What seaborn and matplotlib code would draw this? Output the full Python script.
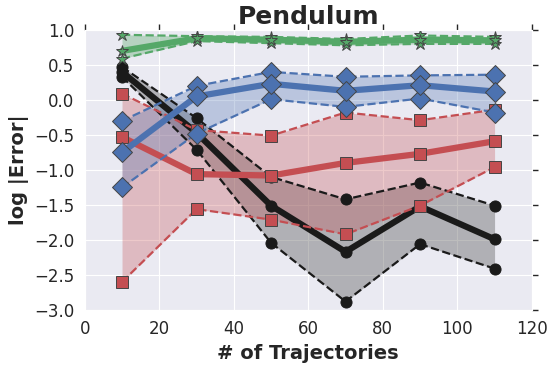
import numpy as np
import pandas as pd
import seaborn as sns
import matplotlib
matplotlib.use("Agg")
import matplotlib.pyplot as plt

# number of trajectories
n_traj = [10, 30, 50, 70, 90, 110]

# black (circles)
black_mean = [0.40, -0.47, -1.51, -2.17, -1.52, -1.99]
black_hi = [0.47, -0.26, -1.10, -1.42, -1.18, -1.51]
black_lo = [0.33, -0.71, -2.04, -2.88, -2.06, -2.41]

# red (squares)
red_mean = [-0.53, -1.06, -1.08, -0.90, -0.77, -0.59]
red_hi = [0.09, -0.43, -0.51, -0.18, -0.29, -0.14]
red_lo = [-2.60, -1.56, -1.71, -1.92, -1.51, -0.96]

# blue (diamonds)
blue_mean = [-0.75, 0.05, 0.23, 0.13, 0.21, 0.12]
blue_hi = [-0.30, 0.20, 0.40, 0.33, 0.35, 0.36]
blue_lo = [-1.25, -0.48, 0.01, -0.10, 0.02, -0.18]

# green (stars)
green_mean = [0.70, 0.88, 0.86, 0.83, 0.86, 0.85]
green_hi = [0.93, 0.91, 0.90, 0.87, 0.92, 0.90]
green_lo = [0.59, 0.84, 0.81, 0.78, 0.80, 0.80]

sns.set_style("darkgrid", {
    "xtick.direction": "out", "ytick.direction": "out",
    "xtick.major.size": 4, "ytick.major.size": 4,
    "xtick.color": "#262626", "ytick.color": "#262626",
})
plt.rcParams["font.family"] = ["DejaVu Sans"]

fig, ax = plt.subplots(figsize=(5.54, 3.69), dpi=100)
fig.subplots_adjust(left=0.153, right=0.960, top=0.919, bottom=0.160)

# name, mean, hi, lo, line colour, marker, marker size, fill colour, fill alpha
series = [
    ("black", black_mean, black_hi, black_lo, "#1a1a1a", "o", 8, "#444444", 0.35),
    ("red", red_mean, red_hi, red_lo, "#C44E52", "s", 8, "#C44E52", 0.3),
    ("blue", blue_mean, blue_hi, blue_lo, "#4C72B0", "D", 10, "#4C72B0", 0.3),
    ("green", green_mean, green_hi, green_lo, "#55A868", "*", 9, "#55A868", 0.35),
]

for name, mean, hi, lo, color, marker, ms, fillc, alpha in series:
    df = pd.DataFrame({"n": n_traj, "mean": mean, "hi": hi, "lo": lo})
    ax.fill_between(df["n"], df["lo"], df["hi"], color=fillc, alpha=alpha, lw=0)
    edge = "#1a1a1a" if name == "black" else "#444444"
    for col, lw, ls in [("hi", 1.6, "--"), ("lo", 1.6, "--"), ("mean", 4.5, "-")]:
        sns.lineplot(data=df, x="n", y=col, ax=ax, color=color, lw=lw, linestyle=ls,
                     marker=marker, markersize=ms, markeredgecolor=edge,
                     markeredgewidth=0.7, legend=False)

ax.set_xlim(0, 120)
ax.set_ylim(-3.0, 1.0)
ax.set_xticks(np.arange(0, 121, 20))
ax.set_yticks(np.arange(-3.0, 1.01, 0.5))
ax.tick_params(axis="both", which="both", top=True, right=True, labelsize=12,
               length=4, width=1)
ax.set_title("Pendulum", fontsize=18, fontweight="bold", pad=4)
ax.set_xlabel("# of Trajectories", fontsize=14, fontweight="bold")
ax.set_ylabel("log |Error|", fontsize=14, fontweight="bold")

fig.savefig("out.png", dpi=100)
